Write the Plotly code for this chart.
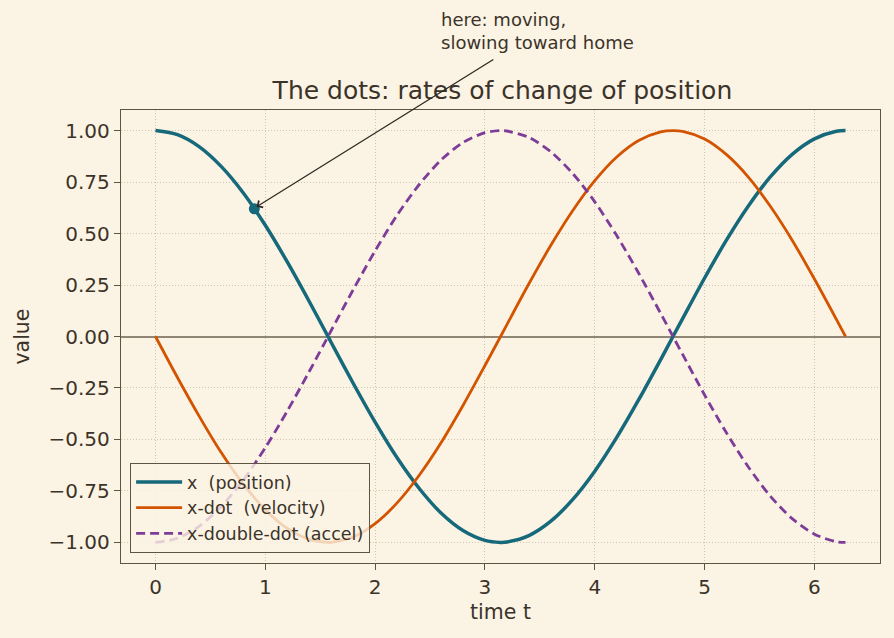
import plotly.graph_objects as go

# sampled time points
t = [0.0, 0.2, 0.4, 0.6, 0.8, 1.0, 1.2, 1.4, 1.571, 1.6, 1.8, 2.0, 2.2, 2.4, 2.6, 2.8, 3.0,
     3.142, 3.2, 3.4, 3.6, 3.8, 4.0, 4.2, 4.4, 4.6, 4.712, 4.8, 5.0, 5.2, 5.4, 5.6, 5.8,
     6.0, 6.2, 6.283]
x_pos = [1.000, 0.980, 0.921, 0.825, 0.697, 0.540, 0.362, 0.170, 0.000, -0.029, -0.227,
         -0.416, -0.589, -0.737, -0.857, -0.942, -0.990, -1.000, -0.998, -0.967, -0.897,
         -0.791, -0.654, -0.490, -0.307, -0.112, 0.000, 0.087, 0.284, 0.469, 0.635, 0.776,
         0.886, 0.960, 0.997, 1.000]
x_vel = [0.000, -0.199, -0.389, -0.565, -0.717, -0.841, -0.932, -0.985, -1.000, -1.000,
         -0.974, -0.909, -0.808, -0.675, -0.516, -0.335, -0.141, 0.000, 0.058, 0.256,
         0.443, 0.612, 0.757, 0.872, 0.952, 0.994, 1.000, 0.996, 0.959, 0.883, 0.773,
         0.631, 0.465, 0.279, 0.083, 0.000]
x_acc = [-1.000, -0.980, -0.921, -0.825, -0.697, -0.540, -0.362, -0.170, 0.000, 0.029,
         0.227, 0.416, 0.589, 0.737, 0.857, 0.942, 0.990, 1.000, 0.998, 0.967, 0.897,
         0.791, 0.654, 0.490, 0.307, 0.112, 0.000, -0.087, -0.284, -0.469, -0.635, -0.776,
         -0.886, -0.960, -0.997, -1.000]
mark_t = [0.9]
mark_x = [0.62]

labels = ["x  (position)", "x-dot  (velocity)", "x-double-dot (accel)"]
title = "The dots: rates of change of position"
note = "here: moving,<br>slowing toward home"
y_ticks = [1.0, 0.75, 0.5, 0.25, 0.0, -0.25, -0.5, -0.75, -1.0]
y_tick_text = ["1.00", "0.75", "0.50", "0.25", "0.00", "\u22120.25", "\u22120.50", "\u22120.75", "\u22121.00"]
x_ticks = [0, 1, 2, 3, 4, 5, 6]

BG = "#FBF3E4"
TXT = "#3B3329"
AX = "#5E5444"
GRID = "#CFC5B2"
TEAL = "#16697A"
ORANGE = "#D35400"
PURPLE = "#7D3C98"
FONT = "DejaVu Sans, Verdana, sans-serif"

fig = go.Figure()
fig.add_trace(go.Scatter(x=t, y=x_pos, mode="lines", name=labels[0],
                         line=dict(color=TEAL, width=3.5, shape="spline", smoothing=0.8)))
fig.add_trace(go.Scatter(x=t, y=x_vel, mode="lines", name=labels[1],
                         line=dict(color=ORANGE, width=2.8, shape="spline", smoothing=0.8)))
fig.add_trace(go.Scatter(x=t, y=x_acc, mode="lines", name=labels[2],
                         line=dict(color=PURPLE, width=2.8, shape="spline", smoothing=0.8,
                                   dash="9px,5px")))
fig.add_trace(go.Scatter(x=mark_t, y=mark_x, mode="markers", showlegend=False,
                         marker=dict(color=TEAL, size=11)))

# arrow
fig.add_annotation(x=mark_t[0] + 0.02, y=mark_x[0] + 0.01, xref="x", yref="y",
                   ax=3.09, ay=1.35, axref="x", ayref="y", text="",
                   showarrow=True, arrowhead=4, arrowsize=1.2, arrowwidth=1.3,
                   arrowcolor="#2E2A24", standoff=0)
fig.add_annotation(x=0.4196, y=1.122, xref="paper", yref="paper", text=note, showarrow=False,
                   xanchor="left", yanchor="bottom", align="left",
                   font=dict(size=18, color=TXT, family=FONT))

axis_common = dict(showline=True, mirror=True, linecolor=AX, linewidth=1.4,
                   ticks="outside", ticklen=6, tickwidth=1.4, tickcolor=AX,
                   showgrid=True, gridcolor=GRID, griddash="1px,2px", gridwidth=1.2,
                   tickfont=dict(size=20, color=TXT, family=FONT),
                   title_font=dict(size=20.5, color=TXT, family=FONT))

fig.update_layout(
    width=894, height=638,
    paper_bgcolor=BG, plot_bgcolor=BG,
    margin=dict(l=121, r=14, t=110, b=75),
    font=dict(family=FONT, color=TXT),
    title=dict(text=title, x=0.562, xanchor="center", y=0.859, yanchor="middle",
               font=dict(size=25, color=TXT, family=FONT)),
    xaxis=dict(range=[-0.314, 6.597], tickvals=x_ticks, zeroline=False,
               title=dict(text="time t", standoff=6), **axis_common),
    yaxis=dict(range=[-1.1, 1.1], tickvals=y_ticks, ticktext=y_tick_text,
               zeroline=True, zerolinecolor="#8F8676", zerolinewidth=2,
               title=dict(text="value", standoff=13), **axis_common),
    legend=dict(x=0.012, y=0.022, xanchor="left", yanchor="bottom",
                bgcolor="rgba(251,243,228,0.8)", bordercolor=AX, borderwidth=1,
                itemwidth=46,
                font=dict(size=17.5, color=TXT, family=FONT), tracegroupgap=0),
    showlegend=True,
)

fig.write_html("out.html")
